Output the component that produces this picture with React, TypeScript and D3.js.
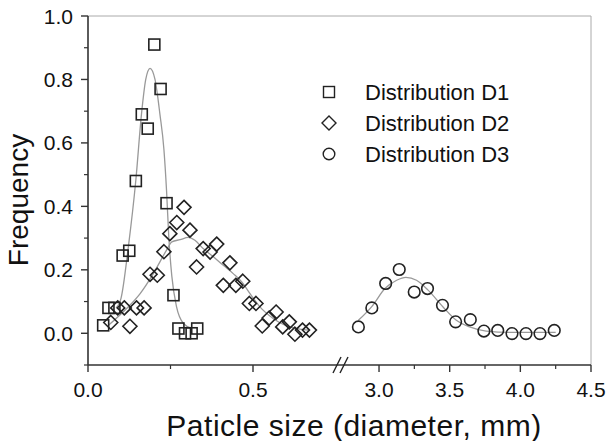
import * as d3 from "d3"

// distribution D1 (squares)
const d1X = [0.046, 0.062, 0.08, 0.105, 0.125, 0.145, 0.163, 0.181, 0.201, 0.22, 0.238, 0.259, 0.274, 0.294, 0.314, 0.331]
const d1Y = [0.025, 0.08, 0.08, 0.245, 0.26, 0.48, 0.69, 0.645, 0.91, 0.77, 0.41, 0.12, 0.015, 0.0, 0.0, 0.015]

// distribution D2 (diamonds)
const d2X = [0.069, 0.09, 0.11, 0.127, 0.147, 0.17, 0.188, 0.21, 0.23, 0.248, 0.269, 0.291, 0.309, 0.329, 0.349, 0.37,
    0.39, 0.41, 0.43, 0.448, 0.469, 0.489, 0.509, 0.528, 0.549, 0.57, 0.59, 0.61, 0.627, 0.65, 0.671]
const d2Y = [0.034, 0.08, 0.08, 0.022, 0.08, 0.08, 0.186, 0.183, 0.257, 0.314, 0.349, 0.397, 0.325, 0.209, 0.267, 0.256,
    0.281, 0.151, 0.222, 0.151, 0.164, 0.094, 0.094, 0.023, 0.048, 0.067, 0.02, 0.036, -0.003, 0.01, 0.01]

// distribution D3 (circles)
const d3X = [2.854, 2.949, 3.047, 3.143, 3.249, 3.343, 3.449, 3.542, 3.646, 3.742, 3.84, 3.941, 4.04, 4.139, 4.24]
const d3Y = [0.02, 0.08, 0.157, 0.201, 0.13, 0.141, 0.088, 0.036, 0.043, 0.007, 0.009, -0.001, -0.001, -0.001, 0.009]

// fitted curves
const fit1X = [0.085, 0.1, 0.122, 0.145, 0.162, 0.175, 0.188, 0.203, 0.218, 0.23, 0.238, 0.245, 0.254, 0.268, 0.29, 0.315]
const fit1Y = [0.08, 0.11, 0.27, 0.483, 0.69, 0.8, 0.835, 0.8, 0.69, 0.58, 0.45, 0.3, 0.18, 0.085, 0.03, 0.015]
const fit2X = [0.062, 0.117, 0.158, 0.198, 0.238, 0.254, 0.279, 0.304, 0.324, 0.349, 0.38, 0.41, 0.44, 0.466, 0.491,
    0.521, 0.562, 0.602, 0.642, 0.668]
const fit2Y = [0.025, 0.078, 0.125, 0.188, 0.262, 0.288, 0.295, 0.302, 0.293, 0.267, 0.241, 0.214, 0.188, 0.162, 0.125,
    0.083, 0.046, 0.023, 0.013, 0.01]
const fit3X = [2.854, 2.95, 3.042, 3.125, 3.19, 3.265, 3.347, 3.453, 3.547, 3.641, 3.758, 3.946, 4.25]
const fit3Y = [0.041, 0.085, 0.141, 0.167, 0.176, 0.167, 0.136, 0.083, 0.041, 0.02, 0.007, 0.003, 0.003]

const legendLabels = ["Distribution D1", "Distribution D2", "Distribution D3"]
const yTicks = [0, 0.2, 0.4, 0.6, 0.8, 1.0]
const yMinor = [-0.1, 0.1, 0.3, 0.5, 0.7, 0.9]
const xTicksLeft = [0, 0.5]
const xMinorLeft = [0.25]
const xTicksRight = [3.0, 3.5, 4.0, 4.5]
const xMinorRight = [3.25, 3.75, 4.25]

const font = "'Liberation Sans', Arial, Helvetica, sans-serif"

const App = () => {
    const width = 608
    const height = 441
    const left = 88
    const right = 591
    const top = 16
    const bottom = 365

    const xl = d3.scaleLinear().domain([0, 0.76]).range([left, 338.8])
    const xr = d3.scaleLinear().domain([2.75, 4.5]).range([343.7, right])
    const y = d3.scaleLinear().domain([-0.1, 1.0]).range([bottom, top])

    const line = (xs, ys, sx) => d3.line()
        .x((_, i) => sx(xs[i]))
        .y((_, i) => y(ys[i]))
        .curve(d3.curveMonotoneX)(xs)

    const square = (cx, cy, key) => <rect key={key} x={cx - 5.5} y={cy - 5.5} width={11} height={11} />
    const diamond = (cx, cy, key) => <path key={key} d={`M${cx},${cy - 7}L${cx + 7},${cy}L${cx},${cy + 7}L${cx - 7},${cy}Z`} />
    const circle = (cx, cy, key) => <circle key={key} cx={cx} cy={cy} r={5.8} />
    const shapes = [square, diamond, circle]

    const legendX = 329
    const legendY = d3.scalePoint().domain(legendLabels).range([92, 154])

    const breakX = 340

    return (
        <svg width={width} height={height} style={{ position: "absolute", left: 0, top: 0, background: "#fff" }}
            fontFamily={font}>
            {/* frame */}
            <line x1={left} x2={right} y1={top} y2={top} stroke="#aaa" strokeWidth={1} />
            <line x1={right} x2={right} y1={top} y2={bottom} stroke="#aaa" strokeWidth={1} />

            {/* fitted curves */}
            <g fill="none" stroke="#999" strokeWidth={1.3}>
                <path d={line(fit1X, fit1Y, xl)} />
                <path d={line(fit2X, fit2Y, xl)} />
                <path d={line(fit3X, fit3Y, xr)} />
            </g>

            {/* points */}
            <g fill="none" stroke="#222" strokeWidth={1.6}>
                {d1X.map((v, i) => square(xl(v), y(d1Y[i]), "a" + i))}
                {d2X.map((v, i) => diamond(xl(v), y(d2Y[i]), "b" + i))}
                {d3X.map((v, i) => circle(xr(v), y(d3Y[i]), "c" + i))}
            </g>

            {/* y axis */}
            <line x1={left} x2={left} y1={top} y2={bottom} stroke="#333" strokeWidth={1.6} />
            {yTicks.map(t => (
                <g key={t}>
                    <line x1={left - 7} x2={left} y1={y(t)} y2={y(t)} stroke="#333" strokeWidth={1.4} />
                    <text x={left - 15} y={y(t)} dy="0.36em" textAnchor="end" fontSize={21} fill="#111">{d3.format(".1f")(t)}</text>
                </g>
            ))}
            {yMinor.map(t => <line key={t} x1={left - 4} x2={left} y1={y(t)} y2={y(t)} stroke="#333" strokeWidth={1.2} />)}

            {/* x axis */}
            <line x1={left} x2={right} y1={bottom} y2={bottom} stroke="#333" strokeWidth={1.6} />
            {xTicksLeft.map(t => (
                <g key={t}>
                    <line x1={xl(t)} x2={xl(t)} y1={bottom} y2={bottom + 7} stroke="#333" strokeWidth={1.4} />
                    <text x={xl(t)} y={bottom + 32} textAnchor="middle" fontSize={21} fill="#111">{d3.format(".1f")(t)}</text>
                </g>
            ))}
            {xMinorLeft.map(t => <line key={t} x1={xl(t)} x2={xl(t)} y1={bottom} y2={bottom + 4} stroke="#333" strokeWidth={1.2} />)}
            {xTicksRight.map(t => (
                <g key={t}>
                    <line x1={xr(t)} x2={xr(t)} y1={bottom} y2={bottom + 7} stroke="#333" strokeWidth={1.4} />
                    <text x={xr(t)} y={bottom + 32} textAnchor="middle" fontSize={21} fill="#111">{d3.format(".1f")(t)}</text>
                </g>
            ))}
            {xMinorRight.map(t => <line key={t} x1={xr(t)} x2={xr(t)} y1={bottom} y2={bottom + 4} stroke="#333" strokeWidth={1.2} />)}

            {/* axis break */}
            <g stroke="#222" strokeWidth={1.4}>
                <line x1={breakX - 7} x2={breakX + 1} y1={bottom + 8} y2={bottom - 8} />
                <line x1={breakX} x2={breakX + 8} y1={bottom + 8} y2={bottom - 8} />
            </g>

            {/* legend */}
            {legendLabels.map((label, i) => (
                <g key={label}>
                    <g fill="none" stroke="#222" strokeWidth={1.4}>
                        {shapes[i](legendX, legendY(label), "l" + i)}
                    </g>
                    <text x={365} y={legendY(label)} dy="0.36em" fontSize={22} fill="#111">{label}</text>
                </g>
            ))}

            {/* axis titles */}
            <text x={354} y={436} textAnchor="middle" fontSize={30} letterSpacing={0.5} fill="#111">Paticle size (diameter, mm)</text>
            <text transform={`translate(28, 200) rotate(-90)`} textAnchor="middle" fontSize={28} fill="#111">Frequency</text>
        </svg>
    )
}

export default App
